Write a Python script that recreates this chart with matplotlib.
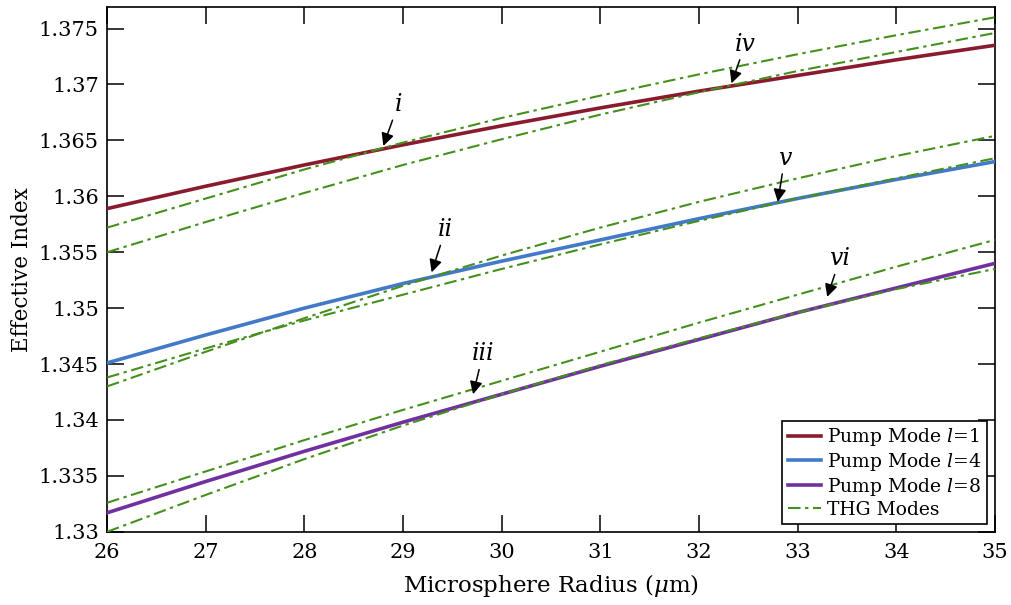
import matplotlib
matplotlib.use("Agg")
import matplotlib.pyplot as plt

plt.rcParams["font.family"] = ["DejaVu Serif"]
plt.rcParams["mathtext.fontset"] = "custom"
plt.rcParams["mathtext.rm"] = "DejaVu Serif"
plt.rcParams["mathtext.it"] = "DejaVu Serif:italic"

# microsphere radius (um)
radius = [26, 27, 28, 29, 30, 31, 32, 33, 34, 35]

# pump modes
pump_l1 = [1.3589, 1.3609, 1.3628, 1.3646, 1.3663, 1.3679, 1.3694, 1.3708, 1.3722, 1.3735]
pump_l4 = [1.3451, 1.3476, 1.3500, 1.3522, 1.3542, 1.3561, 1.3580, 1.3598, 1.3615, 1.3631]
pump_l8 = [1.3317, 1.3345, 1.3372, 1.3398, 1.3423, 1.3448, 1.3472, 1.3496, 1.3518, 1.3540]

# THG modes (two near each pump mode)
thg_a = [1.3572, 1.3598, 1.3624, 1.3648, 1.3670, 1.3690, 1.3709, 1.3727, 1.3744, 1.3760]
thg_b = [1.3550, 1.3577, 1.3603, 1.3628, 1.3651, 1.3673, 1.3693, 1.3712, 1.3729, 1.3746]
thg_c = [1.3430, 1.3461, 1.3491, 1.3520, 1.3547, 1.3572, 1.3595, 1.3616, 1.3636, 1.3654]
thg_d = [1.3438, 1.3464, 1.3489, 1.3512, 1.3535, 1.3557, 1.3578, 1.3598, 1.3616, 1.3634]
thg_e = [1.3326, 1.3354, 1.3382, 1.3409, 1.3435, 1.3461, 1.3487, 1.3512, 1.3537, 1.3561]
thg_f = [1.3300, 1.3333, 1.3365, 1.3395, 1.3423, 1.3449, 1.3473, 1.3496, 1.3517, 1.3535]

# phase-matching annotations: label, arrow tip (x, n), text position (x, n)
marks = ["i", "ii", "iii", "iv", "v", "vi"]
tip_x = [28.80, 29.29, 29.71, 32.33, 32.80, 33.30]
tip_n = [1.3645, 1.3532, 1.3423, 1.3701, 1.3595, 1.3510]
txt_x = [28.95, 29.43, 29.81, 32.47, 32.87, 33.43]
txt_n = [1.3682, 1.3570, 1.3459, 1.3736, 1.3634, 1.3544]

RED = "#8A1A2E"
BLUE = "#4279C8"
PURPLE = "#7030A0"
GREEN = "#45901C"
DASHDOT = (0, (6, 2.2, 1.6, 2.2))

fig = plt.figure(figsize=(10.11, 6.05), dpi=100)
ax = fig.add_axes([0.106, 0.121, 0.878, 0.867])

ax.plot(radius, pump_l1, color=RED, lw=2.6, label=r"Pump Mode $\mathit{l}$=$\mathit{1}$", zorder=3)
ax.plot(radius, pump_l4, color=BLUE, lw=2.6, label=r"Pump Mode $\mathit{l}$=$\mathit{4}$", zorder=3)
ax.plot(radius, pump_l8, color=PURPLE, lw=2.6, label=r"Pump Mode $\mathit{l}$=$\mathit{8}$", zorder=3)
for k, s in enumerate([thg_a, thg_b, thg_c, thg_d, thg_e, thg_f]):
    ax.plot(radius, s, color=GREEN, lw=1.5, ls=DASHDOT,
            label="THG Modes" if k == 0 else None, zorder=4)

for m, tx, tn, lx, ln in zip(marks, tip_x, tip_n, txt_x, txt_n):
    ax.annotate(m, xy=(tx, tn), xytext=(lx, ln), ha="center", va="center",
                fontsize=17, fontstyle="italic", zorder=6,
                arrowprops=dict(arrowstyle="-|>", color="k", lw=1.1,
                                mutation_scale=19, shrinkA=1, shrinkB=0))

ax.set_xlim(26, 35)
ax.set_ylim(1.33, 1.3769)
ax.set_xticks(radius)
ax.set_yticks([1.33, 1.335, 1.34, 1.345, 1.35, 1.355, 1.36, 1.365, 1.37, 1.375])
ax.set_yticklabels(["1.33", "1.335", "1.34", "1.345", "1.35", "1.355",
                    "1.36", "1.365", "1.37", "1.375"])
ax.tick_params(direction="in", length=12, width=1.1, top=True, right=True,
               labelsize=15, pad=6)
ax.tick_params(axis="x", pad=8)
for sp in ax.spines.values():
    sp.set_linewidth(1.2)

ax.set_xlabel(r"Microsphere Radius ($\mu$m)", fontsize=16.5, labelpad=7)
ax.set_ylabel("Effective Index", fontsize=15.5, labelpad=4)

leg = ax.legend(loc="lower right", fontsize=13.5, frameon=True, fancybox=False,
                edgecolor="black", framealpha=1, borderpad=0.3, labelspacing=0.15,
                handlelength=1.8, handletextpad=0.3, borderaxespad=0.4)
leg.get_frame().set_linewidth(1.2)

fig.savefig("out.png", dpi=100)
